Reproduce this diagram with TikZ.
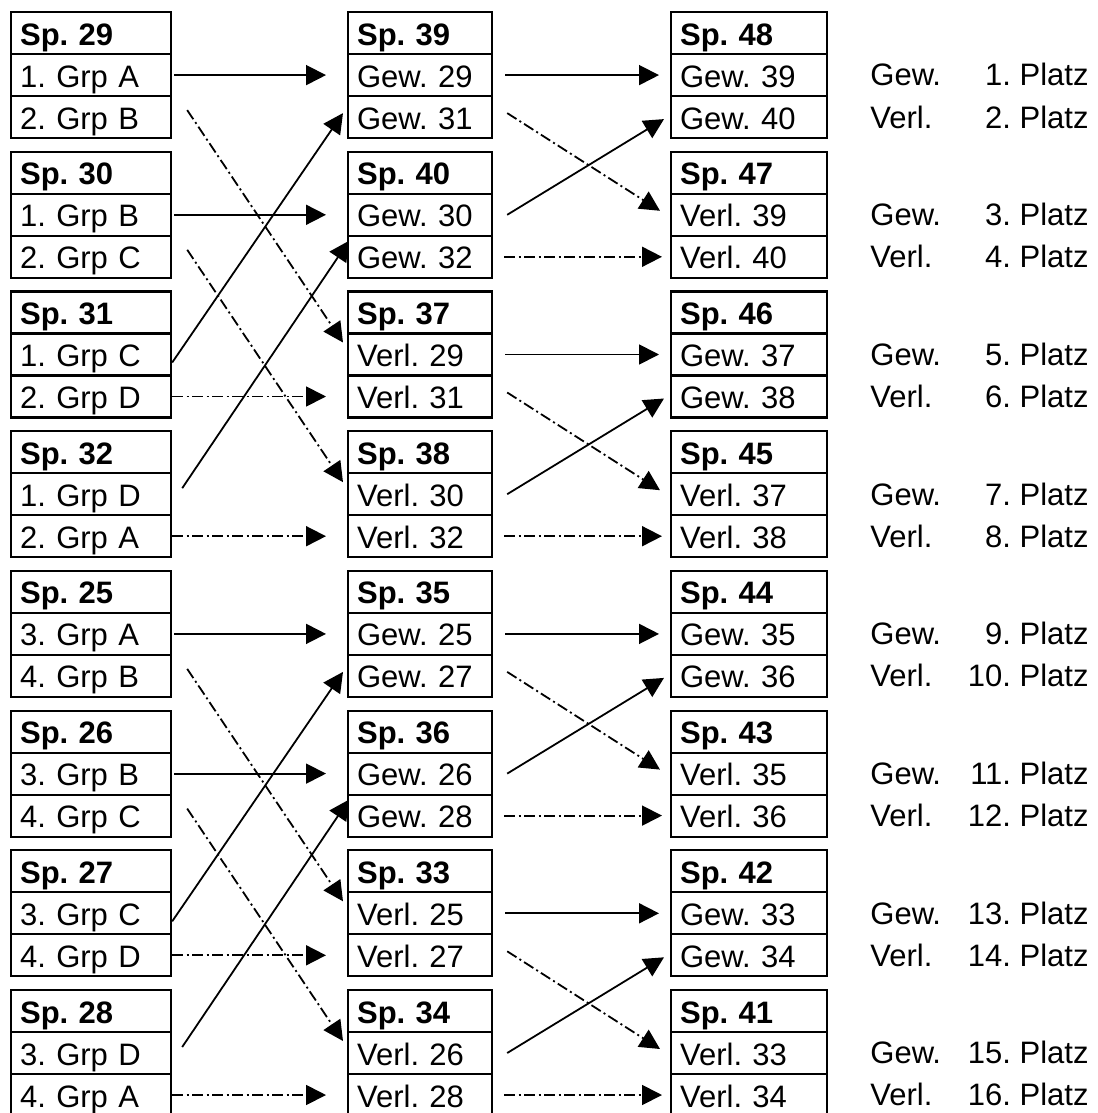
\documentclass[tikz,border=0pt]{standalone}
\usepackage{fontspec}
\setmainfont{Liberation Sans}
\usetikzlibrary{arrows.meta}

\begin{document}
\begin{tikzpicture}[x=0.5pt,y=-0.5pt]
\tikzstyle{cell}=[draw, line width=1.1pt, anchor=north west,
                  inner xsep=4.5pt, inner ysep=0pt, minimum height=21pt,
                  text height=13.5pt, text depth=1.5pt, align=left,
                  font=\fontsize{15.5}{18}\selectfont\frenchspacing]
\tikzstyle{head}=[cell, font=\fontsize{15.5}{18}\selectfont\frenchspacing\bfseries]
\tikzstyle{win}=[line width=0.9pt, -{Triangle[length=10pt,width=10pt]}]
\tikzstyle{lose}=[win, dash pattern=on 5.5pt off 1.75pt on 1pt off 1.75pt]
\tikzstyle{place}=[inner sep=0pt, font=\fontsize{15.5}{18}\selectfont\frenchspacing]
\useasboundingbox (0,0) rectangle (1097,1113);
% Vorrunde
\foreach \g/\m/\p/\q [count=\i from 0] in {29/1/A/B,30/1/B/C,31/1/C/D,32/1/D/A,
                                           25/3/A/B,26/3/B/C,27/3/C/D,28/3/D/A}{
  \pgfmathsetmacro\t{11+139.7*\i}
  \pgfmathtruncatemacro\mm{\m+1}
  \node[head, text width=71pt] (sp\g-0) at (10,\t) {Sp. \g};
  \node[cell, text width=71pt] (sp\g-1) at (10,\t+42) {\m. Grp \p};
  \node[cell, text width=71pt] (sp\g-2) at (10,\t+84) {\mm. Grp \q};
}
% Zwischenrunde
\foreach \g/\r/\p/\q [count=\i from 0] in {39/Gew./29/31,40/Gew./30/32,37/Verl./29/31,38/Verl./30/32,
                                           35/Gew./25/27,36/Gew./26/28,33/Verl./25/27,34/Verl./26/28}{
  \pgfmathsetmacro\t{11+139.7*\i}
  \node[head, text width=63pt] (sp\g-0) at (347,\t) {Sp. \g};
  \node[cell, text width=63pt] (sp\g-1) at (347,\t+42) {\r\ \p};
  \node[cell, text width=63pt] (sp\g-2) at (347,\t+84) {\r\ \q};
}
% Platzierungsspiele
\foreach \g/\r/\p/\q [count=\i from 0] in {48/Gew./39/40,47/Verl./39/40,46/Gew./37/38,45/Verl./37/38,
                                           44/Gew./35/36,43/Verl./35/36,42/Gew./33/34,41/Verl./33/34}{
  \pgfmathsetmacro\t{11+139.7*\i}
  \pgfmathtruncatemacro\na{2*\i+1}
  \pgfmathtruncatemacro\nb{2*\i+2}
  \node[head, text width=69pt] (sp\g-0) at (670,\t) {Sp. \g};
  \node[cell, text width=69pt] (sp\g-1) at (670,\t+42) {\r\ \p};
  \node[cell, text width=69pt] (sp\g-2) at (670,\t+84) {\r\ \q};
  \node[place, anchor=base west] (gw\g) at (870,\t+75) {Gew.};
  \node[place, anchor=base east] (pa\g) at (1089,\t+75) {\na. Platz};
  \node[place, anchor=base west] (vl\g) at (870,\t+117) {Verl.};
  \node[place, anchor=base east] (pb\g) at (1089,\t+117) {\nb. Platz};
}
\foreach \a/\b/\c/\d/\w/\x/\y/\z in {29/30/31/32/39/40/37/38,25/26/27/28/35/36/33/34}{
  \draw[win] ([xshift=1pt]sp\a-1.east) -- ([xshift=-10.5pt]sp\w-1.west);
  \draw[win] ([xshift=1pt]sp\b-1.east) -- ([xshift=-10.5pt]sp\x-1.west);
  \draw[lose] ([xshift=7.5pt,yshift=3.5pt]sp\a-2.east) -- ([xshift=-2pt,yshift=6pt]sp\y-1.west);
  \draw[lose] ([xshift=7.5pt,yshift=3.5pt]sp\b-2.east) -- ([xshift=-2pt,yshift=6pt]sp\z-1.west);
  \draw[win] ([yshift=-4pt]sp\c-1.east) -- ([xshift=-2pt,yshift=2pt]sp\w-2.west);
  \draw[win] ([xshift=5pt,yshift=3pt]sp\d-1.east) -- ([xshift=1pt,yshift=8pt]sp\x-2.west);
  \draw[lose] (sp\c-2.east) -- ([xshift=-10.5pt]sp\y-2.west);
  \draw[lose] (sp\d-2.east) -- ([xshift=-10.5pt]sp\z-2.west);
}
\foreach \w/\x/\p/\q in {39/40/48/47,37/38/46/45,35/36/44/43,33/34/42/41}{
  \draw[win] ([xshift=6pt]sp\w-1.east) -- ([xshift=-5.5pt]sp\p-1.west);
  \draw[lose] ([xshift=7pt,yshift=2pt]sp\w-2.east) -- ([xshift=-5pt,yshift=2pt]sp\q-1.west);
  \draw[win] ([xshift=7pt]sp\x-1.east) -- ([xshift=-3pt,yshift=-1pt]sp\p-2.west);
  \draw[lose] ([xshift=5.5pt]sp\x-2.east) -- ([xshift=-4pt]sp\q-2.west);
}
\end{tikzpicture}
\end{document}
